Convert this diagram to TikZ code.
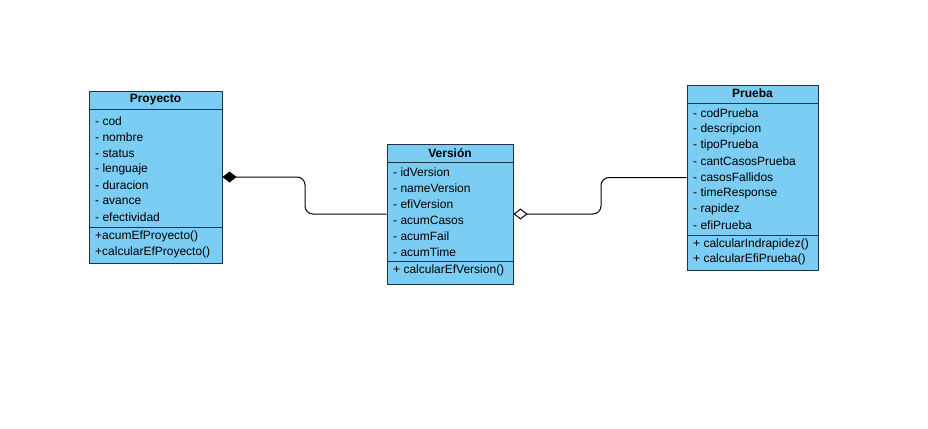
\documentclass[tikz,border=0pt]{standalone}
\usepackage{fontspec}
\setmainfont{Liberation Sans}
\usetikzlibrary{arrows.meta}
\definecolor{clsfill}{RGB}{123,205,243}
\definecolor{clsline}{RGB}{30,50,65}
\begin{document}
\begin{tikzpicture}[x=1pt,y=-1pt,
  font=\fontsize{12}{14}\selectfont,
  cls/.style={draw=clsline,fill=clsfill,line width=1pt,inner sep=0,minimum width=#1},
  sepline/.style={draw=clsline,line width=1pt},
  attr/.style={anchor=west,inner sep=0},
  head/.style={inner sep=0,font=\fontsize{12}{14}\selectfont\bfseries},
  conn/.style={draw=black,line width=1pt,rounded corners=8},
  compo/.style={conn,{Diamond[length=14pt,width=11pt,fill=black]}-},
  aggr/.style={conn,{Diamond[length=14pt,width=11pt,open,fill=white]}-}]
\useasboundingbox (0,0) rectangle (928,428);
\fill[white] (0,0) rectangle (928,428);

% Proyecto
\node[cls=133pt,minimum height=172pt] (proy) at (155.5,177) {};
\draw[sepline] (89,109) -- (222,109);
\draw[sepline] (89,227) -- (222,227);
\node[head] (proyh) at (155.5,100) {Proyecto};
\foreach \t [count=\i from 0] in {cod,nombre,status,lenguaje,duracion,avance,efectividad}
  \node[attr] (pa\i) at (95,121.5+16*\i) {- \t};
\node[attr] (pm0) at (95,236.5) {+acumEfProyecto()};
\node[attr] (pm1) at (95,252) {+calcularEfProyecto()};

% Version
\node[cls=126pt,minimum height=140pt] (ver) at (450,214) {};
\draw[sepline] (387,162.5) -- (513,162.5);
\draw[sepline] (387,261) -- (513,261);
\node[head] (verh) at (450,153) {Versión};
\foreach \t [count=\i from 0] in {idVersion,nameVersion,efiVersion,acumCasos,acumFail,acumTime}
  \node[attr] (va\i) at (393,172.5+16*\i) {- \t};
\node[attr] (vm0) at (393,270) {+ calcularEfVersion()};

% Prueba
\node[cls=131pt,minimum height=185pt] (pru) at (752.5,177.5) {};
\draw[sepline] (687,103) -- (818,103);
\draw[sepline] (687,235) -- (818,235);
\node[head] (pruh) at (752.5,93.5) {Prueba};
\foreach \t [count=\i from 0] in {codPrueba,descripcion,tipoPrueba,cantCasosPrueba,casosFallidos,timeResponse,rapidez,efiPrueba}
  \node[attr] (ra\i) at (693,113+16*\i) {- \t};
\node[attr] (rm0) at (693,244) {+ calcularIndrapidez()};
\node[attr] (rm1) at (693,259.5) {+ calcularEfiPrueba()};

% connectors
\coordinate (m1) at (305,0);
\coordinate (m2) at (601,0);
\draw[compo] (proy.east) -- (proy.east -| m1) |- (ver.west);
\draw[aggr] (ver.east) -- (ver.east -| m2) |- (pru.west);
\end{tikzpicture}
\end{document}
